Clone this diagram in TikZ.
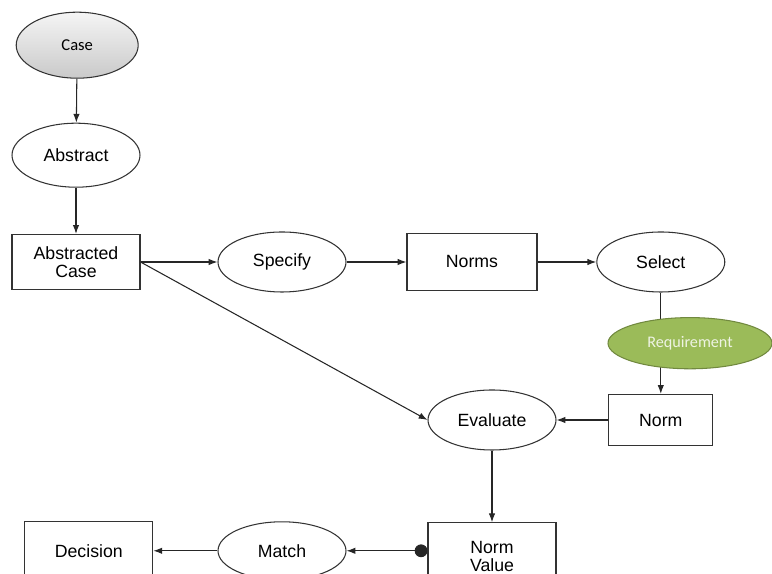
\documentclass[tikz,border=0pt]{standalone}
\usepackage{fontspec}
\setmainfont{Liberation Sans}
\newfontfamily\calib{Carlito}
\usepackage{tikz}
\usetikzlibrary{shapes.geometric,arrows.meta}
\definecolor{olivegreen}{HTML}{9BBB59}
\definecolor{darkolive}{HTML}{71893F}
\definecolor{palegreen}{HTML}{EEF3E3}

\begin{document}
\begin{tikzpicture}[font=\fontsize{12.6}{12.6}\selectfont,
  line width=0.75pt, draw=black!80,
  act/.style={ellipse,draw=black!80,fill=white,inner sep=0pt,minimum width=3.2cm,minimum height=1.5cm},
  item/.style={rectangle,draw=black!80,fill=white,align=center,inner sep=0pt,minimum width=3.2cm,minimum height=1.4cm},
  link/.style={draw=black!85,-{Latex[length=2.2mm,width=1.6mm]}}]
  \useasboundingbox (0,0) rectangle (19.3,14.35);
  \clip (0,0) rectangle (19.3,14.35);
  \node[act,minimum width=3.05cm,minimum height=1.65cm,top color=gray!8,bottom color=gray!42,font=\calib\fontsize{11.8}{12}\selectfont] (case) at (1.93,13.22) {Case};
  \node[act,minimum height=1.6cm] (abstract) at (1.9,10.47) {Abstract};
  \node[item,minimum height=1.38cm] (abscase) at (1.9,7.8) {Abstracted\\Case};
  \node[act] (specify) at (7.05,7.8) {Specify};
  \node[item,minimum width=3.25cm,minimum height=1.42cm] (norms) at (11.8,7.8) {Norms};
  \node[act] (select) at (16.52,7.8) {Select};
  \node[item,minimum width=2.6cm,minimum height=1.28cm] (norm) at (16.52,3.85) {Norm};
  \node[act] (evaluate) at (12.3,3.85) {Evaluate};
  \node[item,minimum height=1.7cm] (normvalue) at (12.3,0.43) {Norm\\Value};
  \node[act,minimum height=1.45cm] (match) at (7.05,0.58) {Match};
  \node[item,minimum height=1.45cm] (decision) at (2.22,0.58) {Decision};
  \draw[link] (case) -- (abstract);
  \draw[link] (abstract) -- (abscase);
  \draw[link] (abscase) -- (specify);
  \draw[link] (specify) -- (norms);
  \draw[link] (norms) -- (select);
  \draw[link] (select) -- (norm);
  \draw[link] (abscase.east) -- (evaluate.west);
  \draw[link] (norm) -- (evaluate);
  \draw[link] (evaluate) -- (evaluate |- normvalue.north);
  \draw[link,{Circle[length=3.2mm]}-{Latex[length=2.2mm,width=1.6mm]}] (normvalue.west |- match.east) -- (match.east);
  \draw[link] (match) -- (decision);
  \node[ellipse,draw=darkolive,fill=olivegreen,inner sep=0pt,minimum width=4.1cm,minimum height=1.28cm,text=palegreen,font=\calib\fontsize{11.5}{12}\selectfont] (requirement) at (17.25,5.77) {Requirement};
\end{tikzpicture}
\end{document}
